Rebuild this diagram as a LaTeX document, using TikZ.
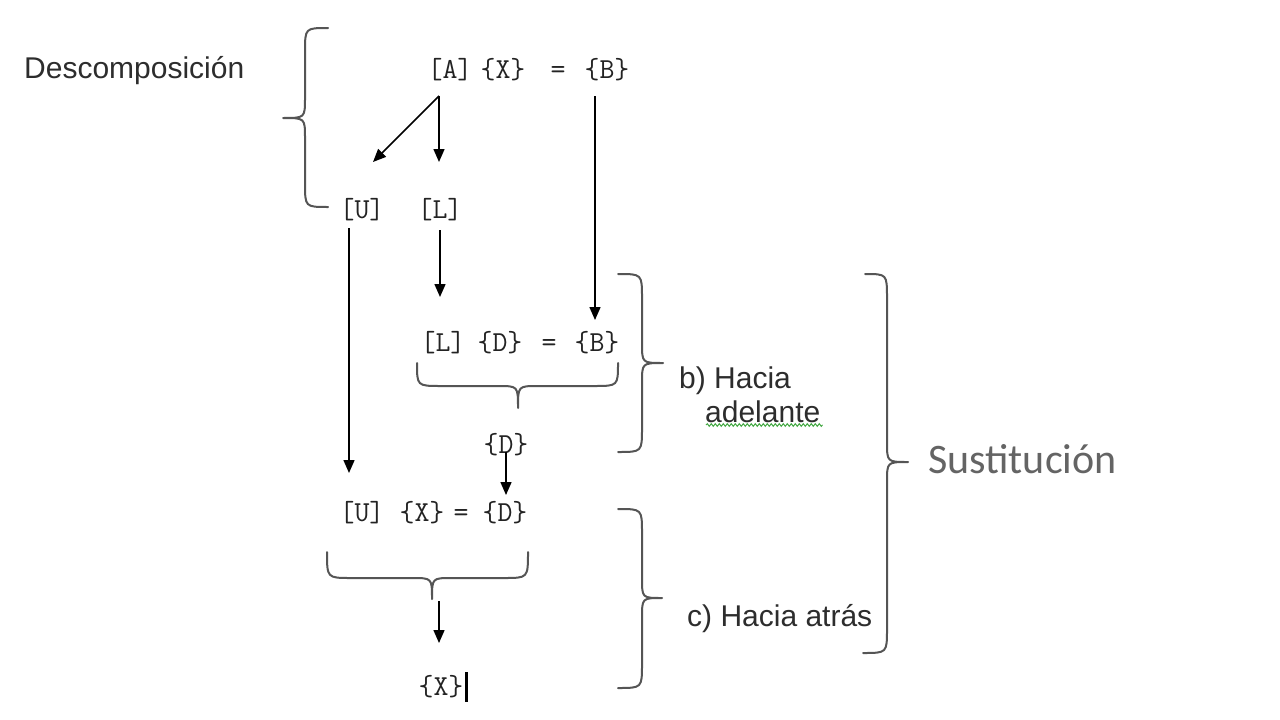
\documentclass[tikz,border=0pt]{standalone}
\usepackage{fontspec}
\usetikzlibrary{arrows.meta,calc,decorations.pathmorphing}
\newfontfamily\sansf{Liberation Sans}
\newfontfamily\calf{Carlito}
\definecolor{ink}{RGB}{35,35,35}
\definecolor{lblc}{RGB}{45,45,45}
\definecolor{brcc}{RGB}{85,85,85}
\definecolor{sustc}{RGB}{100,100,100}
\definecolor{squig}{RGB}{70,170,70}
\begin{document}
\begin{tikzpicture}[x=1pt,y=-1pt,
 mono/.style={font=\ttfamily\fontsize{29}{29}\selectfont, inner sep=0pt, text=ink},
 lbl/.style={font=\sansf\fontsize{30}{30}\selectfont, inner sep=0pt, text=lblc, anchor=base west},
 arr/.style={draw=black, line width=1.5pt, -{Triangle[length=13pt,width=11pt]}},
 bracestroke/.style={draw=brcc, line width=2pt, line cap=round, line join=round},
]
\fill[white] (0,0) rectangle (1280,720);
\useasboundingbox (0,0) rectangle (1280,720);

% row 1
\node[mono] (A)   at (450,70) {\vphantom{[]}[A]};
\node[mono] (X1)  at (503,70) {\vphantom{[]}\{X\}};
\node[mono] (eq1) at (558,70) {\vphantom{[]}=};
\node[mono] (B)   at (607,70) {\vphantom{[]}\{B\}};
% row 2
\node[mono] (U) at (362,210) {\vphantom{[]}[U]};
\node[mono] (L) at (440,210) {\vphantom{[]}[L]};
% row 3
\node[mono] (L2)  at (443,343) {\vphantom{[]}[L]};
\node[mono] (D)   at (500,343) {\vphantom{[]}\{D\}};
\node[mono] (eq2) at (549,343) {\vphantom{[]}=};
\node[mono] (B2)  at (597,343) {\vphantom{[]}\{B\}};
% D alone
\node[mono] (D1) at (506,445) {\vphantom{[]}\{D\}};
% row 5
\node[mono] (U2)  at (362,513) {\vphantom{[]}[U]};
\node[mono] (X2)  at (422,513) {\vphantom{[]}\{X\}};
\node[mono] (eq3) at (461,513) {\vphantom{[]}=};
\node[mono] (D2)  at (505,513) {\vphantom{[]}\{D\}};
% result
\node[mono] (Xf) at (441,687) {\vphantom{[]}\{X\}};
\draw[line width=3pt, black] ($(Xf)+(25,-15)$) -- ($(Xf)+(25,15)$);

% labels
\node[lbl] (desc) at (24,78) {Descomposición};
\node[lbl] (bh) at (679,388) {b) Hacia};
\node[lbl] (ba) at (705,422) {adelante};
\node[lbl] (ch) at (687,626) {c) Hacia atrás};
\node[font=\calf\fontsize{42}{44}\selectfont, text=sustc, inner sep=0pt, anchor=base west] (sust) at (928,473) {Sustitución};
\draw[squig, line width=1pt, decorate, decoration={snake, amplitude=1.3pt, segment length=4pt}]
  ($(ba.base west)+(1,3)$) -- ($(ba.base east)+(2,3)$);

% arrows
\draw[arr] ($(A)+(-11,26)$) -- ($(U)+(11,-48)$);
\draw[arr] ($(A)+(-11,26)$) -- ($(L)+(-1,-48)$);
\draw[arr] ($(B)+(-12,26)$) -- ($(B2)+(-2,-23)$);
\draw[arr] ($(U)+(-13,18)$) -- ($(U2)+(-13,-40)$);
\draw[arr] ($(L)+(0,20)$) -- ($(L2)+(-3,-46)$);
\draw[arr] ($(D1)+(0,7)$) -- ($(D2)+(1,-18)$);
\coordinate (t4) at (439,601);
\draw[arr] (t4) -- ($(Xf)+(-2,-44)$);

% braces
% left brace (Descomposicion)
\draw[bracestroke] (328,28) .. controls (305,28) .. (305,52) -- (305,98)
  .. controls (305,118) .. (283,118) .. controls (305,118) .. (305,138)
  -- (305,183) .. controls (305,207) .. (328,207);
% brace under row 3
\draw[bracestroke] (417,363) .. controls (417,386) .. (441,386) -- (498,386)
  .. controls (518,386) .. (518,408) .. controls (518,386) .. (538,386)
  -- (594,386) .. controls (618,386) .. (618,363);
% brace under row 5
\draw[bracestroke] (327,552) .. controls (327,578) .. (351,578) -- (412,578)
  .. controls (432,578) .. (432,599) .. controls (432,578) .. (452,578)
  -- (504,578) .. controls (528,578) .. (528,552);
% b) brace
\draw[bracestroke] (618,274) .. controls (642,274) .. (642,298) -- (642,343)
  .. controls (642,363) .. (663,363) .. controls (642,363) .. (642,383)
  -- (642,428) .. controls (642,452) .. (618,452);
% c) brace
\draw[bracestroke] (618,509) .. controls (642,509) .. (642,533) -- (642,578)
  .. controls (642,598) .. (662,598) .. controls (642,598) .. (642,618)
  -- (642,664) .. controls (642,688) .. (618,688);
% big brace
\draw[bracestroke] (865,274) .. controls (887,274) .. (887,298) -- (887,442)
  .. controls (887,462) .. (908,462) .. controls (887,462) .. (887,482)
  -- (887,629) .. controls (887,653) .. (863,653);
\end{tikzpicture}
\end{document}
